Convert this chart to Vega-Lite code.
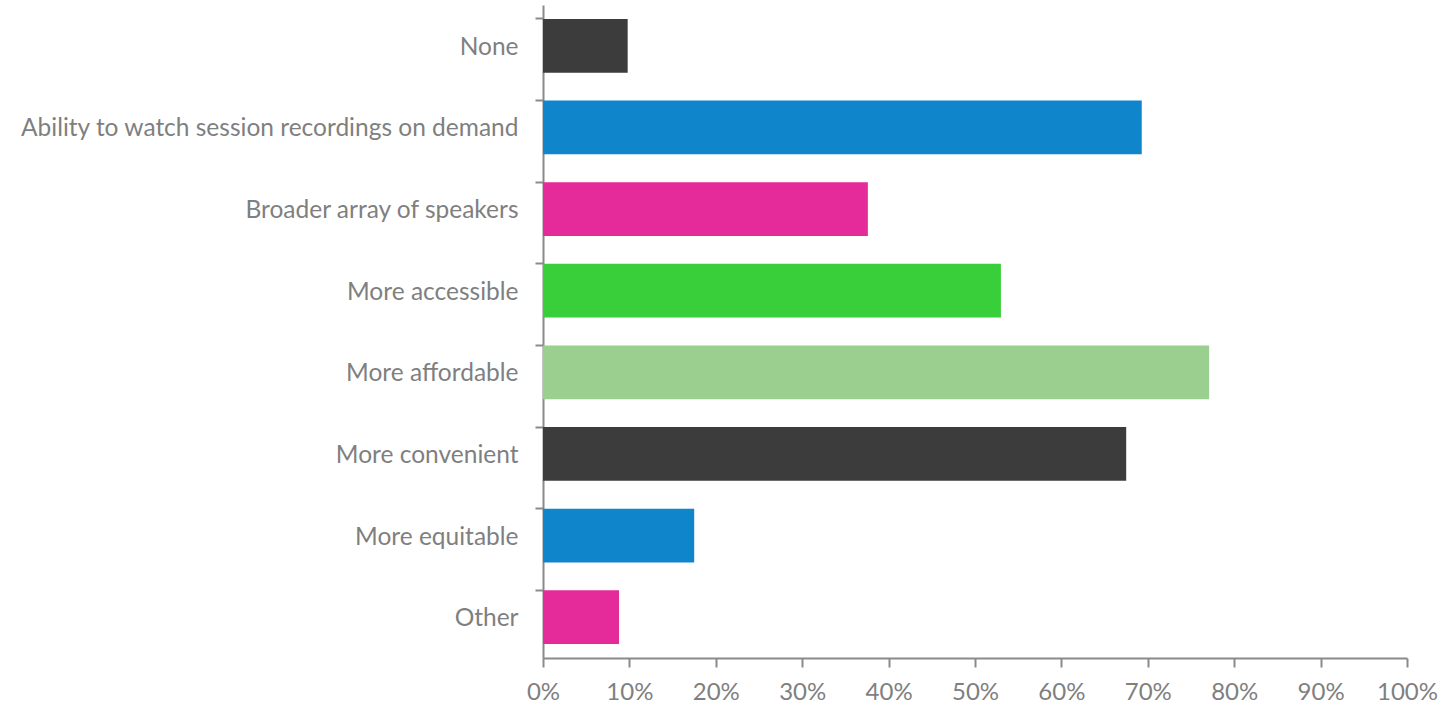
{
  "$schema": "https://vega.github.io/schema/vega-lite/v6.json",
  "width": 864,
  "height": 653,
  "autosize": {"type": "none"},
  "padding": {"left": 543, "top": 5, "right": 40, "bottom": 47},
  "background": "white",
  "config": {"view": {"stroke": null}, "font": "Lato"},
  "data": {
    "values": [
      {"option": "None", "pct": 9.8},
      {"option": "Ability to watch session recordings on demand", "pct": 69.3},
      {"option": "Broader array of speakers", "pct": 37.6},
      {"option": "More accessible", "pct": 53.0},
      {"option": "More affordable", "pct": 77.1},
      {"option": "More convenient", "pct": 67.5},
      {"option": "More equitable", "pct": 17.5},
      {"option": "Other", "pct": 8.8}
    ]
  },
  "mark": {"type": "bar"},
  "encoding": {
    "y": {
      "field": "option",
      "type": "nominal",
      "sort": null,
      "scale": {"paddingInner": 0.34, "paddingOuter": 0.17},
      "axis": {
        "title": null,
        "bandPosition": 0,
        "domainColor": "#8a8a8a",
        "domainWidth": 2,
        "tickColor": "#8a8a8a",
        "tickWidth": 2,
        "tickSize": 8,
        "labelFontSize": 24.5,
        "labelColor": "#7f7f7f",
        "labelPadding": 17,
        "labelOffset": 2,
        "labelLimit": 600,
        "labelFont": "Lato"
      }
    },
    "x": {
      "field": "pct",
      "type": "quantitative",
      "scale": {"domain": [0, 100], "nice": false},
      "axis": {
        "title": null,
        "values": [0, 10, 20, 30, 40, 50, 60, 70, 80, 90, 100],
        "labelExpr": "datum.value + '%'",
        "labelFlush": false,
        "labelOverlap": false,
        "grid": false,
        "domainColor": "#8a8a8a",
        "domainWidth": 2,
        "tickColor": "#8a8a8a",
        "tickWidth": 2,
        "tickSize": 9,
        "labelFontSize": 24,
        "labelColor": "#7f7f7f",
        "labelPadding": 13,
        "labelFont": "Lato"
      }
    },
    "color": {
      "field": "option",
      "type": "nominal",
      "legend": null,
      "scale": {
        "domain": ["None", "Ability to watch session recordings on demand", "Broader array of speakers", "More accessible", "More affordable", "More convenient", "More equitable", "Other"],
        "range": ["#3c3c3c", "#0f85cc", "#e52a9a", "#38cf3b", "#9acf8f", "#3c3c3c", "#0f85cc", "#e52a9a"]
      }
    }
  }
}
